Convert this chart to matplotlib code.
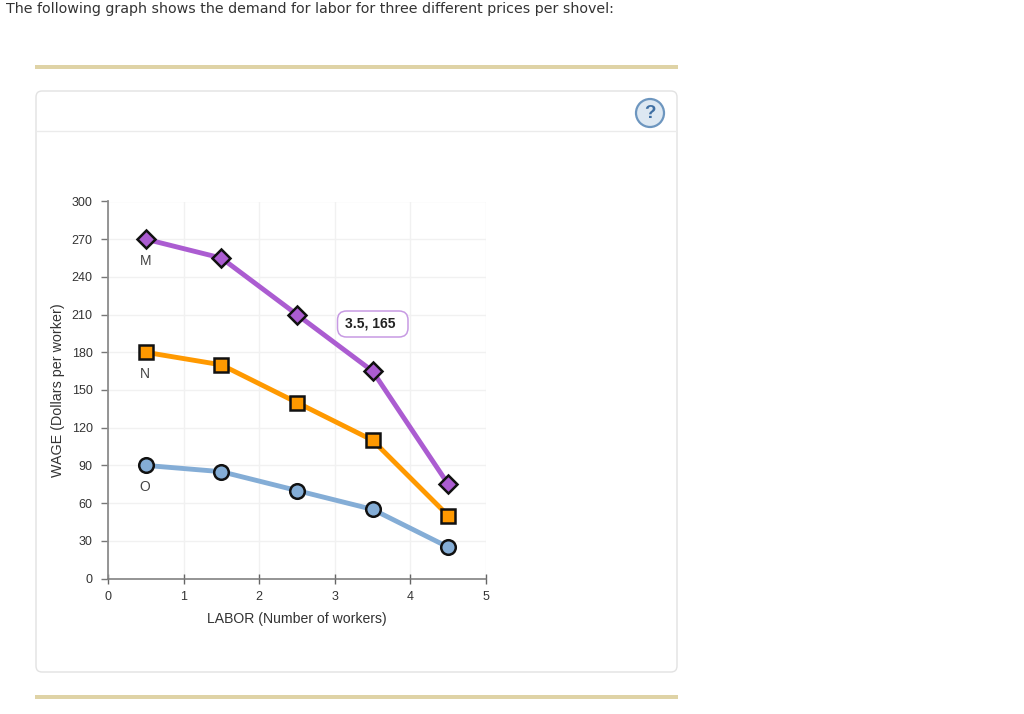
import matplotlib
matplotlib.use("Agg")
from matplotlib import pyplot as plt
from matplotlib.patches import FancyBboxPatch, Circle, Rectangle

LABOR = [0.5, 1.5, 2.5, 3.5, 4.5]
WAGE_M = [270, 255, 210, 165, 75]
WAGE_N = [180, 170, 140, 110, 50]
WAGE_O = [90, 85, 70, 55, 25]
X_TICKS = [0, 1, 2, 3, 4, 5]
Y_TICKS = [0, 30, 60, 90, 120, 150, 180, 210, 240, 270, 300]

W, H = 1024, 714
plt.rcParams['font.family'] = ['Liberation Sans', 'DejaVu Sans']

fig = plt.figure(figsize=(W / 100, H / 100), dpi=100, facecolor="white")

# page furniture, drawn in pixel coordinates
page = fig.add_axes([0, 0, 1, 1])
page.set_xlim(0, W)
page.set_ylim(H, 0)
page.axis("off")

page.text(6, 8.5, "The following graph shows the demand for labor for three different prices per shovel:",
          family="DejaVu Sans", fontsize=10.22, color="#333333", va="center", ha="left")
page.add_patch(Rectangle((35, 64.5), 642.5, 4, fc="#dfd3a6", ec="none"))
page.add_patch(Rectangle((35, 694.5), 642.5, 4, fc="#dfd3a6", ec="none"))
page.add_patch(FancyBboxPatch((36, 91), 641, 581, boxstyle="round,pad=0,rounding_size=6",
                              fc="white", ec="#e2e2e2", lw=1.0))
page.plot([37, 676], [130.5, 130.5], color="#ebebeb", lw=1)
page.add_patch(Circle((650, 113), 14, fc="#dde8f2", ec="#6d96bf", lw=1.6))
page.text(650, 113.5, "?", fontsize=13.5, fontweight="bold", color="#3f6fa3", ha="center", va="center",
          family="Liberation Sans")

# chart
left, right, top, bottom = 108, 486, 201.5, 578.5
ax = fig.add_axes([left / W, 1 - bottom / H, (right - left) / W, (bottom - top) / H])
ax.patch.set_alpha(0)
ax.set_xlim(0, 5)
ax.set_ylim(0, 300)
ax.set_xticks(X_TICKS)
ax.set_yticks(Y_TICKS)
ax.grid(True, color="#f1f1f1", lw=1)
ax.set_axisbelow(True)
for side in ["top", "right"]:
    ax.spines[side].set_visible(False)
ax.spines["left"].set_color("#8c8c8c")
ax.spines["left"].set_linewidth(1.3)
ax.spines["bottom"].set_color("#777777")
ax.spines["bottom"].set_linewidth(1.1)
ax.tick_params(axis="y", direction="out", length=5, width=1, color="#777777", labelsize=9,
               labelcolor="#333333", pad=6)
ax.tick_params(axis="x", direction="inout", length=7, width=1, color="#666666", labelsize=9,
               labelcolor="#333333", pad=5.5)
ax.set_xlabel("LABOR (Number of workers)", fontsize=10.1, color="#333333", labelpad=6.5)
ax.set_ylabel("WAGE (Dollars per worker)", fontsize=10.3, color="#333333", labelpad=4.5)

ax.plot(LABOR, WAGE_O, color="#84add6", lw=3.5, marker="o", ms=10.5, mfc="#84add6",
        mec="#111111", mew=1.8, clip_on=False)
ax.plot(LABOR, WAGE_N, color="#ff9900", lw=3.5, marker="s", ms=9.5, mfc="#ff9900",
        mec="#111111", mew=1.8, clip_on=False)
ax.plot(LABOR, WAGE_M, color="#ab5cd1", lw=3.5, marker="D", ms=9.5, mfc="#ab5cd1",
        mec="#111111", mew=1.8, clip_on=False)

# point labels under the first marker of each curve
for name, values in [("M", WAGE_M), ("N", WAGE_N), ("O", WAGE_O)]:
    ax.annotate(name, (LABOR[0], values[0]), xytext=(-0.4, -15.5), textcoords="offset points",
                ha="center", va="center", fontsize=10, color="#444444")

# tooltip outline sits over the grid, in page pixels
ax.add_patch(FancyBboxPatch((337.5, 311), 70.5, 26, boxstyle="round,pad=0,rounding_size=9",
                            fc="white", ec="#c79ae3", lw=1.1, transform=page.transData,
                            zorder=5, clip_on=False))
ax.annotate(f"{LABOR[3]}, {WAGE_M[3]}", (LABOR[3], WAGE_M[3]), xytext=(-2, 34), textcoords="offset points",
            ha="center", va="center", fontsize=10, fontweight="bold", color="#222222", zorder=6)

fig.savefig("out.png", dpi=100)
